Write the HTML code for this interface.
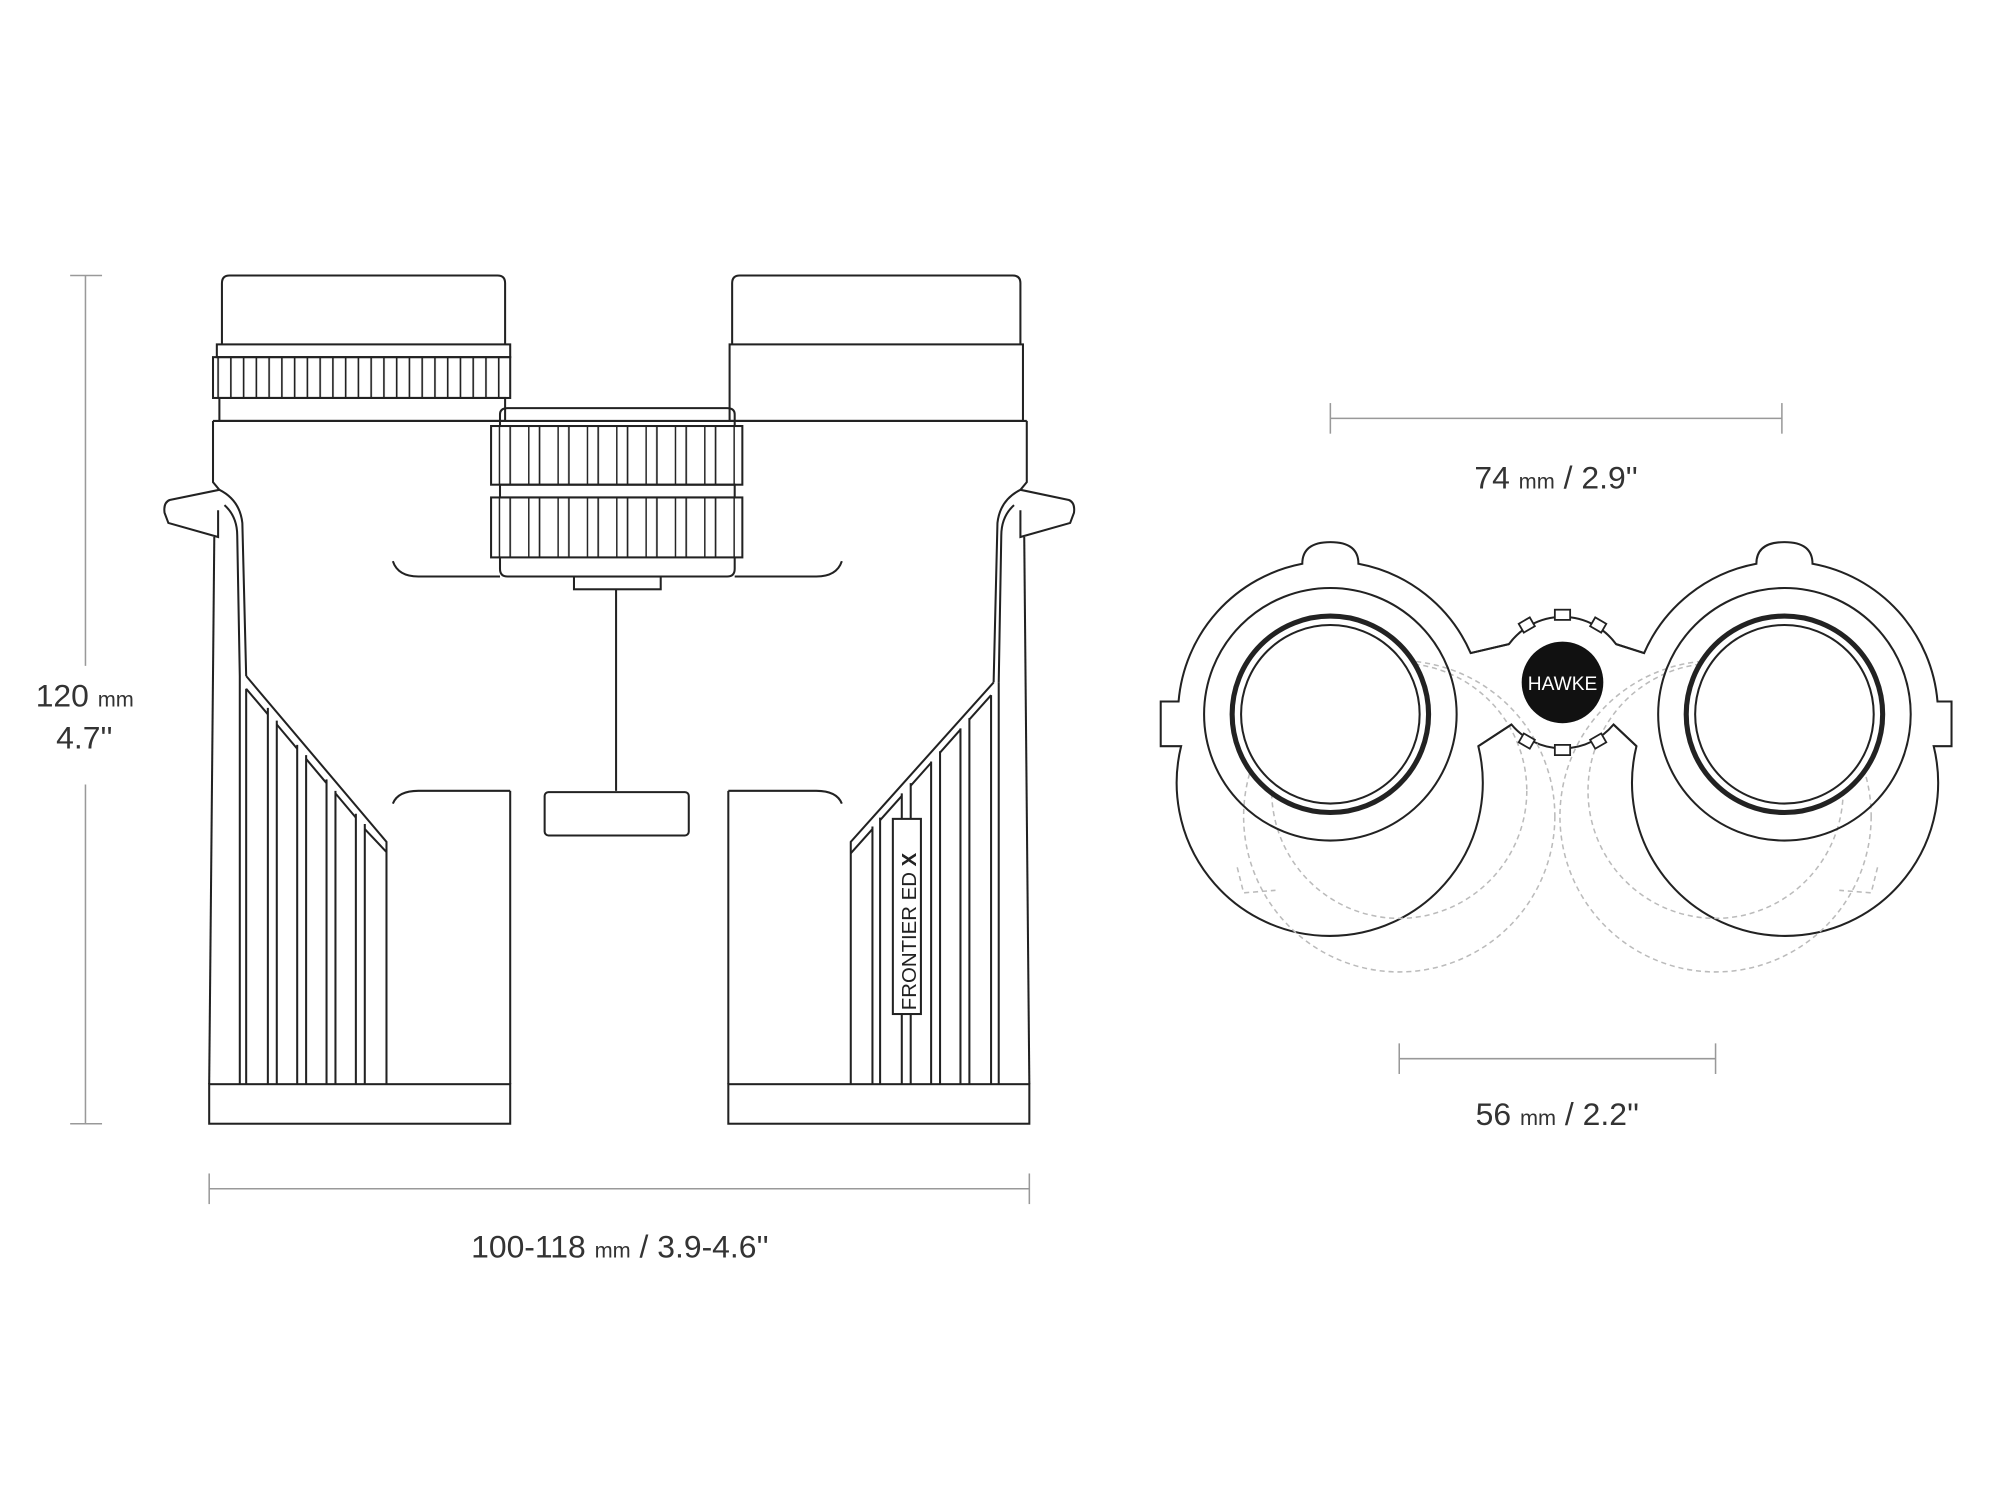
<!DOCTYPE html>
<html><head><meta charset="utf-8"><style>
html,body{margin:0;padding:0;background:#fff;width:2000px;height:1500px;overflow:hidden}
svg{display:block}
text{font-family:"Liberation Sans",sans-serif;fill:#333}
</style></head><body>
<svg width="2000" height="1500" viewBox="0 0 1568 1176" xmlns="http://www.w3.org/2000/svg">
<defs>
<pattern id="kn" width="23" height="10" patternUnits="userSpaceOnUse">
<line x1="0.5" y1="0" x2="0.5" y2="10" stroke="#222" stroke-width="1.3"/>
<line x1="9" y1="0" x2="9" y2="10" stroke="#222" stroke-width="1.3"/>
</pattern>
<pattern id="kn2" width="10" height="10" patternUnits="userSpaceOnUse">
<line x1="1" y1="0" x2="1" y2="10" stroke="#222" stroke-width="1.3"/>
</pattern>
</defs>
<g fill="none" stroke="#999" stroke-width="1.2">
<line x1="67" y1="216" x2="67" y2="522"/><line x1="67" y1="615" x2="67" y2="881"/>
<line x1="55" y1="216" x2="80" y2="216"/><line x1="55" y1="881" x2="80" y2="881"/>
<line x1="164" y1="932" x2="807" y2="932"/><line x1="164" y1="920" x2="164" y2="944"/><line x1="807" y1="920" x2="807" y2="944"/>
<line x1="1043" y1="328" x2="1397" y2="328"/><line x1="1043" y1="316" x2="1043" y2="340"/><line x1="1397" y1="316" x2="1397" y2="340"/>
<line x1="1097" y1="830" x2="1345" y2="830"/><line x1="1097" y1="818" x2="1097" y2="842"/><line x1="1345" y1="818" x2="1345" y2="842"/>
</g>
<text x="28" y="554" font-size="25">120 <tspan font-size="17">mm</tspan></text>
<text x="44" y="587" font-size="25">4.7''</text>
<text x="486" y="986" font-size="25" text-anchor="middle">100-118 <tspan font-size="17">mm</tspan> / 3.9-4.6''</text>
<text x="1220" y="383" font-size="25" text-anchor="middle">74 <tspan font-size="17">mm</tspan> / 2.9''</text>
<text x="1221" y="882" font-size="25" text-anchor="middle">56 <tspan font-size="17">mm</tspan> / 2.2''</text>

<g fill="none" stroke="#222" stroke-width="1.6">
<path d="M174,270 V222 Q174,216 180,216 H390 Q396,216 396,222 V270"/>
<rect x="170" y="270" width="230" height="10"/>
<rect x="167" y="280" width="233" height="32" fill="url(#kn2)"/>
<rect x="172" y="312" width="224" height="18"/>
<path d="M574,270 V222 Q574,216 580,216 H794 Q800,216 800,222 V270"/>
<rect x="572" y="270" width="230" height="60"/>
<line x1="167" y1="330" x2="805" y2="330"/>
<path d="M167,330 V378 L172,384 L133,392 Q128,394 129,402 L132,410 L171,421 L171,400"/>
<path d="M168,421 L164,850"/>
<path d="M172,384 Q188,392 190,410 L193,530"/>
<path d="M176,396 Q186,405 186,420 L188,530"/>
<path d="M805,330 V378 L800,384 L838,392 Q843,394 842,402 L839,410 L800,421 L800,400"/>
<path d="M803,421 L807,850"/>
<path d="M800,384 Q784,392 782,410 L779,535"/>
<path d="M795,396 Q785,405 785,420 L783,535"/>
<rect x="164" y="850" width="236" height="31"/>
<rect x="571" y="850" width="236" height="31"/>
<line x1="400" y1="620" x2="400" y2="850"/>
<line x1="571" y1="620" x2="571" y2="850"/>
<path d="M193,530 L303,660 V850"/>
<path d="M188,530 L188,850"/>
<path d="M193,540 V850 M210,555 V850 M217,565 V850 M233,584 V850 M240,592 V850 M256,611 V850 M263,620 V850 M279,638 V850 M286,646 V850"/>
<path d="M193,540 L210,560 M217,568 L233,587 M240,595 L256,614 M263,622 L279,641 M286,650 L303,668"/>
<path d="M779,535 L667,660 V850"/>
<path d="M783,535 L783,850"/>
<path d="M777,545 V850 M760,563 V850 M753,571 V850 M737,589 V850 M730,597 V850 M714,614 V850 M707,622 V850 M690,641 V850 M684,648 V850"/>
<path d="M777,545 L760,564 M753,572 L737,590 M730,598 L714,616 M707,624 L690,643 M684,650 L667,669"/>
<rect x="700" y="642" width="22" height="153" fill="#fff"/>
<path d="M392,334 V325 Q392,320 398,320 H570 Q576,320 576,325 V334"/>
<rect x="385" y="334" width="197" height="46" fill="url(#kn)"/>
<rect x="392" y="380" width="184" height="10"/>
<rect x="385" y="390" width="197" height="47" fill="url(#kn)"/>
<path d="M392,437 V446 Q392,452 398,452 H570 Q576,452 576,446 V437"/>
<rect x="450" y="452" width="68" height="10"/>
<line x1="483" y1="462" x2="483" y2="620"/>
<path d="M308,440 Q312,452 328,452 H392 M576,452 H640 Q656,452 660,440"/>
<path d="M308,630 Q312,620 328,620 H400 M571,620 H640 Q656,620 660,630"/>
<rect x="427" y="621" width="113" height="34" rx="3"/>
</g>
<text transform="translate(718,792) rotate(-90)" font-size="16" style="fill:#222">FRONTIER ED <tspan font-weight="bold">X</tspan></text>

<!-- front view -->
<path fill="#fff" stroke="#222" stroke-width="1.6" d="M1021,442 Q1021,425 1043,425 Q1065,425 1065,442 A120,120 0 0 1 1153,512 L1183,505 A52,52 0 0 1 1267,505 L1289,512 A120,120 0 0 1 1377,442 Q1377,425 1399,425 Q1421,425 1421,442 A120,120 0 0 1 1519,550 H1530 V585 H1516 A120,120 0 1 1 1283,585 L1265,568 A52,52 0 0 1 1185,568 L1159,585 A120,120 0 1 1 926,585 H910 V550 H924 A120,120 0 0 1 1021,442 Z"/>
<g fill="none" stroke="#bbb" stroke-width="1.2" stroke-dasharray="4,3">
<circle cx="1097" cy="640" r="122"/><circle cx="1097" cy="620" r="100"/>
<circle cx="1345" cy="640" r="122"/><circle cx="1345" cy="620" r="100"/>
<path d="M970,680 L975,700 L1000,698"/><path d="M1472,680 L1467,700 L1442,698"/>
</g>
<g fill="none" stroke="#222" stroke-width="1.6">
<path d="M1153,512 L1183,505 M1267,505 L1289,512 M1283,585 L1265,568 M1185,568 L1159,585"/>
<circle cx="1043" cy="560" r="99"/><circle cx="1399" cy="560" r="99"/>
<circle cx="1043" cy="560" r="77" stroke-width="4" fill="#fff"/><circle cx="1399" cy="560" r="77" stroke-width="4" fill="#fff"/>
<circle cx="1043" cy="560" r="70"/><circle cx="1399" cy="560" r="70"/>
<g fill="#fff" stroke-width="1.4">
<rect x="1219" y="478" width="12" height="8"/><rect x="1219" y="584" width="12" height="8"/>
<rect x="1192" y="486" width="10" height="8" transform="rotate(-30 1197 490)"/>
<rect x="1248" y="486" width="10" height="8" transform="rotate(30 1253 490)"/>
<rect x="1192" y="577" width="10" height="8" transform="rotate(30 1197 581)"/>
<rect x="1248" y="577" width="10" height="8" transform="rotate(-30 1253 581)"/>
</g>
</g>
<circle cx="1225" cy="535" r="32" fill="#111"/>
<text x="1225" y="541" font-size="15" text-anchor="middle" style="fill:#fff">HAWKE</text>
</svg>
</body></html>
